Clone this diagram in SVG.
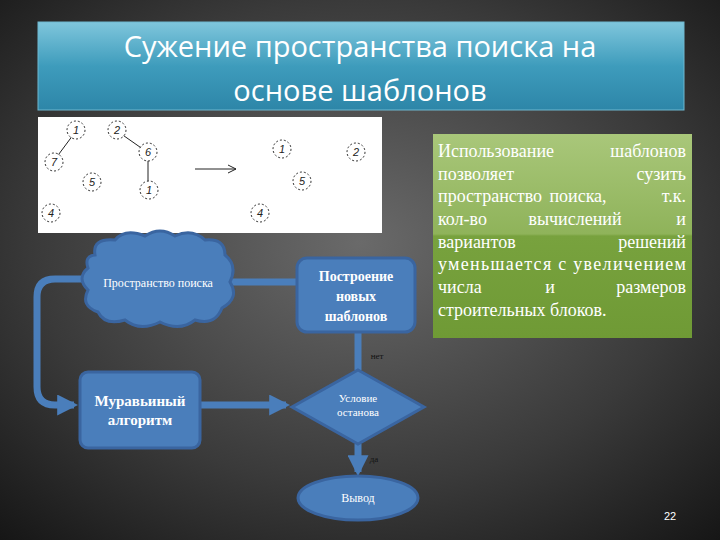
<svg xmlns="http://www.w3.org/2000/svg" width="720" height="540" viewBox="0 0 720 540">
<defs>
<radialGradient id="bg" cx="0.5" cy="0.45" r="0.75"><stop offset="0" stop-color="#6a6a6a"/><stop offset="0.6" stop-color="#3a3a3a"/><stop offset="1" stop-color="#151515"/></radialGradient>
<linearGradient id="tb" x1="0" y1="0" x2="0" y2="1"><stop offset="0" stop-color="#7fc6dc"/><stop offset="0.5" stop-color="#3e9cbc"/><stop offset="1" stop-color="#2d86a8"/></linearGradient>
<linearGradient id="gb" x1="0" y1="0" x2="0" y2="1"><stop offset="0" stop-color="#a9c77a"/><stop offset="0.49" stop-color="#8fb35a"/><stop offset="0.5" stop-color="#78a23e"/><stop offset="1" stop-color="#6f9a35"/></linearGradient>
<marker id="ah" viewBox="0 0 10 10" refX="8" refY="5" markerWidth="3" markerHeight="3" orient="auto"><path d="M0,0 L10,5 L0,10 z" fill="#4a7ebb"/></marker>
</defs>
<style>
.shape{fill:#4a7ebb;stroke:#3a65a0;stroke-width:3}
.conn{fill:none;stroke:#4a7ebb;stroke-width:7}
.c{fill:#fff;stroke:#333;stroke-dasharray:2,2;stroke-width:1}
.n{font-family:"Liberation Sans",sans-serif;font-size:11px;font-style:italic;fill:#222;text-anchor:middle}
</style>
<rect width="720" height="540" fill="url(#bg)"/>
<g id="title">
<rect x="38" y="22" width="646" height="88" fill="url(#tb)" stroke="#6fb8d0" stroke-width="1"/>
<text x="360" y="57" text-anchor="middle" font-family="Open Sans,sans-serif" font-size="29" fill="#fff">Сужение пространства поиска на</text>
<text x="360" y="101" text-anchor="middle" font-family="Open Sans,sans-serif" font-size="29" fill="#fff">основе шаблонов</text>
</g>
<g id="picture">
<rect x="38" y="117" width="344" height="116" fill="#fff"/>
<line x1="76" y1="131" x2="53" y2="162" stroke="#222"/>
<line x1="117" y1="131" x2="147" y2="152" stroke="#222"/>
<line x1="148" y1="152" x2="148" y2="189" stroke="#222"/>
<line x1="195" y1="169" x2="236" y2="169" stroke="#222"/>
<path d="M228,165 L236,169 L228,173" fill="none" stroke="#222"/>
<circle class="c" cx="76" cy="130" r="9"/><text class="n" x="76" y="134">1</text>
<circle class="c" cx="117" cy="130" r="9"/><text class="n" x="117" y="134">2</text>
<circle class="c" cx="148" cy="152" r="9"/><text class="n" x="148" y="156">6</text>
<circle class="c" cx="54" cy="162" r="9"/><text class="n" x="54" y="166">7</text>
<circle class="c" cx="92" cy="182" r="9"/><text class="n" x="92" y="186">5</text>
<circle class="c" cx="149" cy="190" r="9"/><text class="n" x="149" y="194">1</text>
<circle class="c" cx="51" cy="213" r="9"/><text class="n" x="51" y="217">4</text>
<circle class="c" cx="282" cy="149" r="9"/><text class="n" x="282" y="153">1</text>
<circle class="c" cx="356" cy="152" r="9"/><text class="n" x="356" y="156">2</text>
<circle class="c" cx="302" cy="181" r="9"/><text class="n" x="302" y="185">5</text>
<circle class="c" cx="260" cy="213" r="9"/><text class="n" x="260" y="217">4</text>
</g>
<g id="connectors">
<path class="conn" d="M84,279 L55,279 Q37,279 37,297 L37,387 Q37,405 55,405 L74,405" marker-end="url(#ah)"/>
<line class="conn" x1="230" y1="282" x2="296" y2="282"/>
<line class="conn" x1="200" y1="405" x2="286" y2="405" marker-end="url(#ah)"/>
<line class="conn" x1="358" y1="332" x2="358" y2="370"/>
<line class="conn" x1="358" y1="444" x2="358" y2="472" marker-end="url(#ah)"/>
<text x="377" y="359" font-family="Liberation Serif,serif" font-size="9" fill="#111" text-anchor="middle">нет</text>
<text x="374" y="462" font-family="Liberation Serif,serif" font-size="9" fill="#111" text-anchor="middle">да</text>
</g>
<g id="cloud">
<path class="shape" d="M95,255 Q92,238 115,240 Q125,228 145,236 Q160,226 175,236 Q192,228 205,240 Q225,238 225,255 Q238,265 230,282 Q240,298 222,308 Q215,326 195,320 Q180,332 160,322 Q140,332 125,320 Q105,326 98,312 Q80,306 88,290 Q76,278 88,268 Q84,256 95,255 Z"/>
<text x="158" y="287" font-family="Liberation Serif,serif" fill="#fff" font-size="12" text-anchor="middle">Пространство поиска</text>
</g>
<g id="build">
<rect class="shape" x="297" y="258" width="118" height="74" rx="10"/>
<g font-family="Liberation Serif,serif" fill="#fff" font-size="14" font-weight="bold" text-anchor="middle">
<text x="356" y="281">Построение</text>
<text x="356" y="301">новых</text>
<text x="356" y="321">шаблонов</text>
</g>
</g>
<g id="ant">
<rect class="shape" x="80" y="372" width="120" height="76" rx="8"/>
<g font-family="Liberation Serif,serif" fill="#fff" font-size="15" font-weight="bold" text-anchor="middle">
<text x="140" y="406">Муравьиный</text>
<text x="140" y="425">алгоритм</text>
</g>
</g>
<g id="cond">
<path class="shape" d="M358,370 L424,407 L358,444 L292,407 Z"/>
<g font-family="Liberation Serif,serif" fill="#fff" font-size="11" text-anchor="middle">
<text x="358" y="402">Условие</text>
<text x="358" y="416">останова</text>
</g>
</g>
<g id="out">
<ellipse class="shape" cx="358" cy="498" rx="60" ry="22"/>
<text x="358" y="502" font-family="Liberation Serif,serif" fill="#fff" font-size="12" text-anchor="middle">Вывод</text>
</g>
<g id="note">
<rect x="433" y="134" width="259" height="204" fill="url(#gb)"/>
<g font-family="Liberation Serif,serif" fill="#fff" font-size="18">
<text x="438" y="157">Использование</text><text x="686" y="157" text-anchor="end">шаблонов</text>
<text x="438" y="180">позволяет</text><text x="686" y="180" text-anchor="end">сузить</text>
<text x="438" y="202">пространство</text><text x="578" y="202" text-anchor="middle">поиска,</text><text x="686" y="202" text-anchor="end">т.к.</text>
<text x="438" y="225">кол-во</text><text x="575" y="225" text-anchor="middle">вычислений</text><text x="686" y="225" text-anchor="end">и</text>
<text x="438" y="248">вариантов</text><text x="686" y="248" text-anchor="end">решений</text>
<text x="438" y="270" textLength="248" lengthAdjust="spacing">уменьшается с увеличением</text>
<text x="438" y="293">числа</text><text x="550" y="293" text-anchor="middle">и</text><text x="686" y="293" text-anchor="end">размеров</text>
<text x="438" y="316">строительных блоков.</text>
</g>
</g>
<text x="670" y="520" font-family="Liberation Sans,sans-serif" font-size="11" fill="#fff" text-anchor="middle">22</text>
</svg>
